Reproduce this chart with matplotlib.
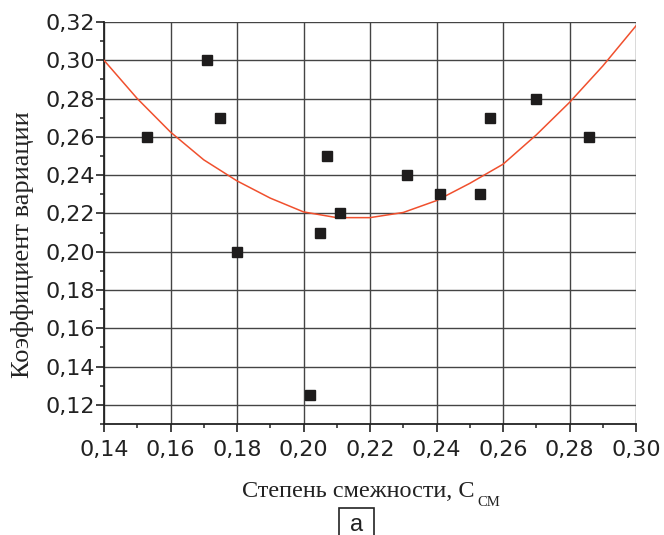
import matplotlib.pyplot as plt
from matplotlib.patches import Rectangle
from matplotlib.ticker import MultipleLocator, FuncFormatter

# Данные
c_sm = [0.153, 0.171, 0.175, 0.180, 0.202, 0.205, 0.207, 0.211,
        0.231, 0.241, 0.253, 0.256, 0.270, 0.286]
k_var = [0.26, 0.30, 0.27, 0.20, 0.125, 0.21, 0.25, 0.22,
         0.24, 0.23, 0.23, 0.27, 0.28, 0.26]

# Аппроксимирующая кривая
fit_x = [0.14, 0.15, 0.16, 0.17, 0.18, 0.19, 0.20, 0.21, 0.22,
         0.23, 0.24, 0.25, 0.26, 0.27, 0.28, 0.29, 0.30]
fit_y = [0.300, 0.280, 0.2625, 0.248, 0.237, 0.228, 0.2208, 0.2178, 0.2178,
         0.2205, 0.2267, 0.2357, 0.2457, 0.261, 0.278, 0.297, 0.318]

x_ticks = [0.14, 0.16, 0.18, 0.20, 0.22, 0.24, 0.26, 0.28, 0.30]
y_ticks = [0.12, 0.14, 0.16, 0.18, 0.20, 0.22, 0.24, 0.26, 0.28, 0.30, 0.32]

W, H = 664, 535
fig = plt.figure(figsize=(W / 100, H / 100), dpi=100)
ax = fig.add_axes([104 / W, 1 - 424 / H, 532 / W, 402 / H])

comma = FuncFormatter(lambda v, pos: f"{v:.2f}".replace('.', ','))

ax.set_xlim(0.14, 0.30)
ax.set_ylim(0.11, 0.32)
ax.set_xticks(x_ticks)
ax.set_yticks(y_ticks)
ax.xaxis.set_major_formatter(comma)
ax.yaxis.set_major_formatter(comma)
ax.xaxis.set_minor_locator(MultipleLocator(0.01))
ax.yaxis.set_minor_locator(MultipleLocator(0.01))

ax.grid(True, which='major', color='#444444', linewidth=1.0)
ax.set_axisbelow(True)

for side in ['top', 'right']:
    ax.spines[side].set_visible(False)
for side in ['left', 'bottom']:
    ax.spines[side].set_linewidth(1.3)
    ax.spines[side].set_color('#222222')

ax.tick_params(which='major', direction='out', length=5.5, width=1.2,
               labelsize=16, colors='#222222', labelcolor='#222222')
ax.tick_params(which='minor', direction='out', length=3.2, width=1.1, colors='#222222')
ax.tick_params(axis='x', which='major', pad=6)
ax.tick_params(axis='y', which='major', pad=1)
for lab in ax.get_xticklabels() + ax.get_yticklabels():
    lab.set_family('DejaVu Sans')

ax.plot(fit_x, fit_y, color='#f0502e', linewidth=1.1, zorder=3)
ax.plot(c_sm, k_var, linestyle='none', marker='s', markersize=6.5,
        color='#1e1c1c', zorder=4, clip_on=False)

# подписи осей
fig.text(23 / W, 1 - 245 / H, 'Коэффициент вариации', family='Liberation Serif',
         fontsize=19, rotation=90, ha='center', va='center', color='#222222')
xl = fig.text(242 / W, 1 - 497 / H, 'Степень смежности, C', family='Liberation Serif',
              fontsize=17.5, ha='left', va='baseline', color='#222222')
fig.canvas.draw()
bb = xl.get_window_extent()
fig.text((bb.x1 + 3) / W, 1 - 506 / H, 'CM', family='Liberation Serif',
         fontsize=10.5, ha='left', va='baseline', color='#222222')

# метка "а" в рамке
fig.patches.append(Rectangle((339 / W, -0.02), 35 / W, 0.02 + 1 - 508 / H,
                             transform=fig.transFigure, facecolor='white',
                             edgecolor='#222222', linewidth=1.2))
fig.text(356.5 / W, 1 - 531 / H, 'a', family='Liberation Sans',
         fontsize=17, ha='center', va='baseline', color='#222222')

fig.savefig('out.png', dpi=100)
